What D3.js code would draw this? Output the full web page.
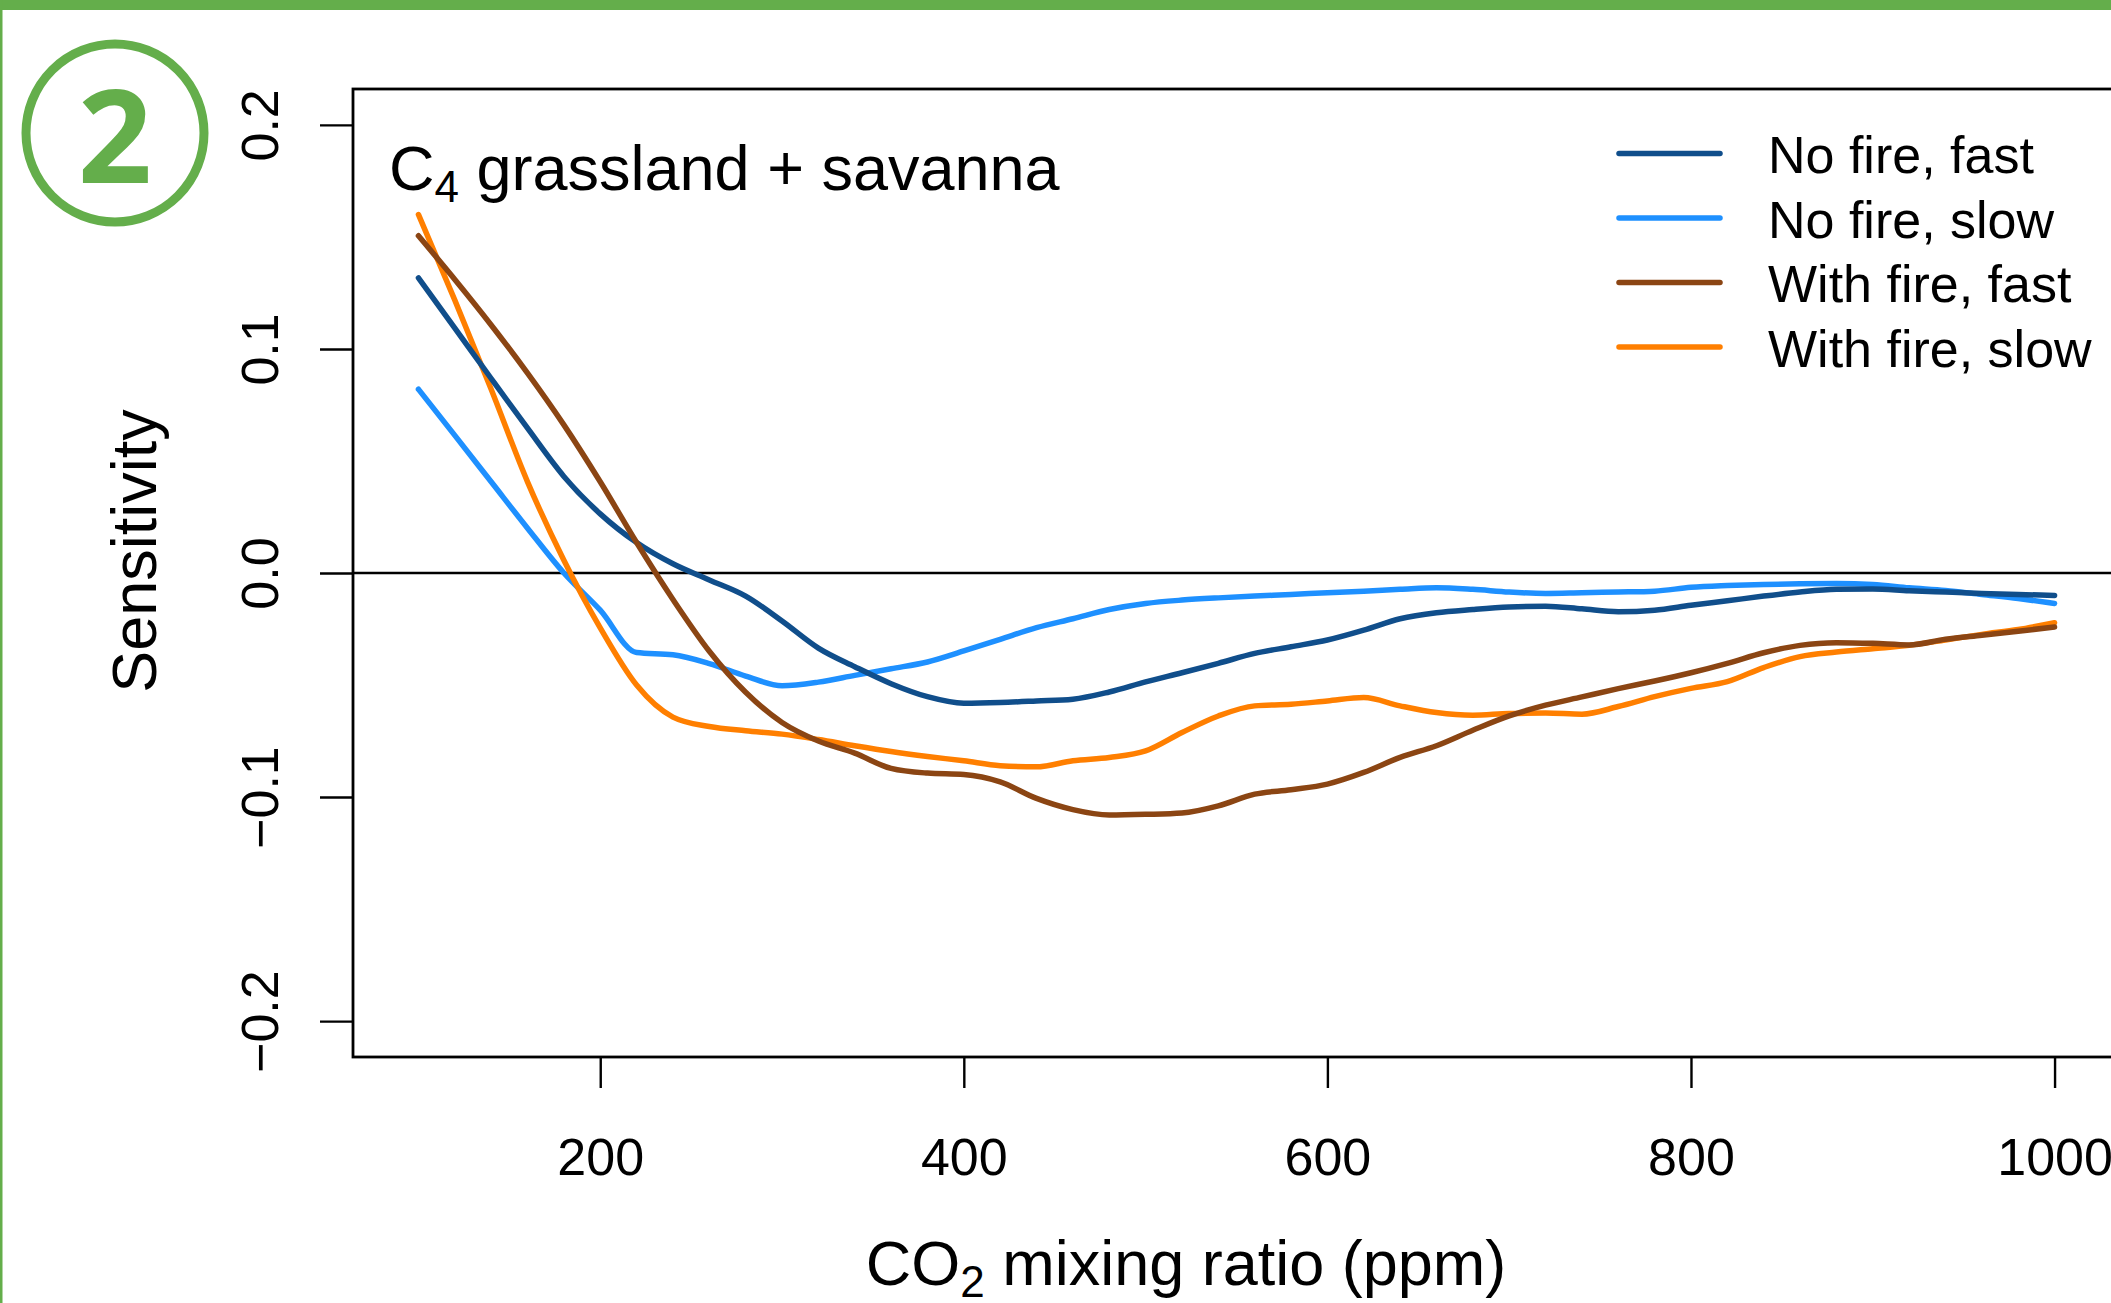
<!DOCTYPE html>
<html>
<head>
<meta charset="utf-8">
<script src="https://cdn.jsdelivr.net/npm/d3@7"></script>
<style>
  body { margin: 0; background: #fff; }
  svg text { font-family: "Liberation Sans", Arial, Helvetica, sans-serif; fill: #000; }
</style>
</head>
<body>
<div id="chart"></div>
<script>
// CO2 mixing ratio (ppm) at which the curves were read
var ppm = [100, 120, 140, 160, 180, 200, 220, 240, 260, 280, 300, 320, 340, 360, 380, 400,
  420, 440, 460, 480, 500, 520, 540, 560, 580, 600, 620, 640, 660, 680, 700, 720, 740,
  760, 780, 800, 820, 840, 860, 880, 900, 920, 940, 960, 980, 1000];

var noFireFast = [0.1317, 0.1093, 0.0868, 0.0646, 0.0431, 0.0264, 0.0136, 0.0041, -0.0031, -0.0103,
  -0.0214, -0.0335, -0.0418, -0.0494, -0.0552, -0.0581, -0.0578, -0.0571, -0.0563, -0.0531,
  -0.0486, -0.0445, -0.0403, -0.0359, -0.0329, -0.0299, -0.0255, -0.0204, -0.0177, -0.0163,
  -0.0152, -0.0148, -0.0160, -0.0173, -0.0166, -0.0144, -0.0124, -0.0103, -0.0085, -0.0073,
  -0.0071, -0.0079, -0.0085, -0.0091, -0.0096, -0.0100];

var noFireSlow = [0.0820, 0.0614, 0.0407, 0.0200, 0.0000, -0.0166, -0.0355, -0.0365, -0.0404, -0.0460,
  -0.0503, -0.0487, -0.0457, -0.0427, -0.0397, -0.0348, -0.0296, -0.0244, -0.0204, -0.0163,
  -0.0136, -0.0121, -0.0111, -0.0103, -0.0096, -0.0088, -0.0081, -0.0073, -0.0066, -0.0073,
  -0.0085, -0.0091, -0.0088, -0.0085, -0.0081, -0.0064, -0.0056, -0.0051, -0.0048, -0.0047,
  -0.0051, -0.0066, -0.0078, -0.0096, -0.0114, -0.0136];

var withFireFast = [0.1505, 0.1310, 0.1107, 0.0892, 0.0661, 0.0407, 0.0136, -0.0118, -0.0349, -0.0532,
  -0.0667, -0.0750, -0.0804, -0.0872, -0.0893, -0.0899, -0.0932, -0.1006, -0.1056, -0.1080,
  -0.1077, -0.1071, -0.1039, -0.0987, -0.0967, -0.0942, -0.0890, -0.0823, -0.0771, -0.0702,
  -0.0638, -0.0590, -0.0553, -0.0516, -0.0482, -0.0445, -0.0403, -0.0356, -0.0323, -0.0311,
  -0.0314, -0.0321, -0.0296, -0.0278, -0.0260, -0.0241];

var withFireSlow = [0.1600, 0.1218, 0.0820, 0.0407, 0.0057, -0.0245, -0.0500, -0.0643, -0.0685, -0.0704,
  -0.0719, -0.0743, -0.0771, -0.0797, -0.0819, -0.0838, -0.0860, -0.0865, -0.0838, -0.0823,
  -0.0794, -0.0712, -0.0638, -0.0593, -0.0586, -0.0571, -0.0556, -0.0593, -0.0623, -0.0635,
  -0.0627, -0.0625, -0.0630, -0.0596, -0.0552, -0.0515, -0.0485, -0.0422, -0.0373, -0.0353,
  -0.0338, -0.0323, -0.0299, -0.0274, -0.0252, -0.0222];

var seriesNames = ["No fire, fast", "No fire, slow", "With fire, fast", "With fire, slow"];
var seriesColors = ["#104E8B", "#1E90FF", "#8B4513", "#FF7F00"];
var seriesValues = [noFireFast, noFireSlow, withFireFast, withFireSlow];

var xTicks = [200, 400, 600, 800, 1000];
var yTicks = [-0.2, -0.1, 0.0, 0.1, 0.2];
var yTickLabels = ["\u22120.2", "\u22120.1", "0.0", "0.1", "0.2"];

function drawChart()
{
  var width = 2111,
      height = 1303;
  var green = "#64AE4B";

  var svg = d3.select("#chart")
    .append("svg")
      .attr("width", width)
      .attr("height", height);

  // green panel frame and the "2" badge
  svg.append("rect").attr("x", 0).attr("y", 0).attr("width", width).attr("height", 10).attr("fill", green);
  svg.append("rect").attr("x", 0).attr("y", 0).attr("width", 2.5).attr("height", height).attr("fill", green);
  svg.append("circle")
    .attr("cx", 115).attr("cy", 133).attr("r", 89)
    .attr("fill", "none").attr("stroke", green).attr("stroke-width", 9);
  svg.append("text")
    .attr("x", 115).attr("y", 183)
    .attr("text-anchor", "middle")
    .style("font-family", "'Open Sans', 'Noto Sans', sans-serif")
    .style("font-weight", "bold")
    .style("font-size", "130px")
    .style("fill", green)
    .text("2");

  // scales: R style, 4% padding round the data range
  var x = d3.scaleLinear().domain([64, 1036]).range([353, 2120]);
  var y = d3.scaleLinear().domain([-0.216, 0.216]).range([1057, 89]);

  // x axis
  var xAxis = svg.append("g")
    .attr("transform", "translate(0,1057)")
    .call(d3.axisBottom(x).tickValues(xTicks).tickSize(31).tickPadding(0).tickFormat(d3.format("d")));
  xAxis.select(".domain").remove();
  xAxis.selectAll("line").attr("stroke", "#000").attr("stroke-width", 2.4);
  xAxis.selectAll("text")
    .attr("y", 118).attr("dy", null)
    .style("font-size", "52px");

  // y axis, labels turned like R's las=0
  var yAxis = svg.append("g")
    .attr("transform", "translate(353,0)")
    .call(d3.axisLeft(y).tickValues(yTicks).tickSize(33)
      .tickFormat(function(d, i) { return yTickLabels[i]; }));
  yAxis.select(".domain").remove();
  yAxis.selectAll("line").attr("stroke", "#000").attr("stroke-width", 2.4);
  yAxis.selectAll("text")
    .attr("x", null).attr("dy", null)
    .attr("text-anchor", "middle")
    .attr("transform", "translate(-75,0) rotate(-90)")
    .style("font-size", "52px");

  // clip the curves to the plot box
  svg.append("clipPath").attr("id", "plotclip")
    .append("rect").attr("x", 353).attr("y", 89).attr("width", 2120 - 353).attr("height", 1057 - 89);

  var plot = svg.append("g").attr("clip-path", "url(#plotclip)");

  plot.append("line")
    .attr("x1", 353).attr("x2", 2120)
    .attr("y1", y(0)).attr("y2", y(0))
    .attr("stroke", "#000").attr("stroke-width", 2.6);

  var line = d3.line()
    .x(function(d) { return x(d[0]); })
    .y(function(d) { return y(d[1]); })
    .curve(d3.curveMonotoneX);

  // slow runs first so the fast ones sit on top
  [1, 3, 0, 2].forEach(function(k) {
    var pts = ppm.map(function(p, i) { return [p, seriesValues[k][i]]; });
    plot.append("path")
      .attr("d", line(pts))
      .attr("fill", "none")
      .attr("stroke", seriesColors[k])
      .attr("stroke-width", 5.5)
      .attr("stroke-linecap", "round")
      .attr("stroke-linejoin", "round");
  });

  // plot box
  svg.append("rect")
    .attr("x", 353).attr("y", 89)
    .attr("width", 2120 - 353).attr("height", 1057 - 89)
    .attr("fill", "none").attr("stroke", "#000").attr("stroke-width", 2.8);

  // panel title with subscript
  var title = svg.append("text").attr("x", 389).attr("y", 190).style("font-size", "63px");
  title.append("tspan").text("C");
  title.append("tspan").attr("dy", 12).style("font-size", "44px").text("4");
  title.append("tspan").attr("dy", -12).text(" grassland + savanna");

  // legend
  var legend = svg.append("g");
  seriesNames.forEach(function(name, i) {
    var ly = 153.5 + i * 64.5;
    legend.append("line")
      .attr("x1", 1619).attr("x2", 1720)
      .attr("y1", ly).attr("y2", ly)
      .attr("stroke", seriesColors[i])
      .attr("stroke-width", 5.5)
      .attr("stroke-linecap", "round");
    legend.append("text")
      .attr("x", 1768).attr("y", ly + 19.5)
      .style("font-size", "52px")
      .text(name);
  });

  // axis titles
  var xt = svg.append("text")
    .attr("x", 1186).attr("y", 1285)
    .attr("text-anchor", "middle")
    .style("font-size", "63px");
  xt.append("tspan").text("CO");
  xt.append("tspan").attr("dy", 12).style("font-size", "44px").text("2");
  xt.append("tspan").attr("dy", -12).text(" mixing ratio (ppm)");

  svg.append("text")
    .attr("transform", "translate(156,551) rotate(-90)")
    .attr("text-anchor", "middle")
    .style("font-size", "63px")
    .text("Sensitivity");
}

drawChart();
</script>
</body>
</html>
